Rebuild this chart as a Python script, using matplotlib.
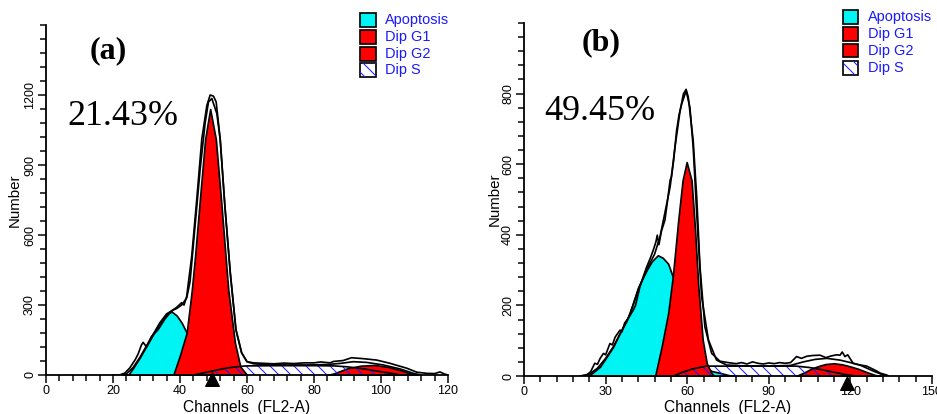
import matplotlib

matplotlib.use("Agg")
import matplotlib.pyplot as plt  # noqa: E402
from matplotlib.patches import Rectangle  # noqa: E402
from matplotlib.ticker import MultipleLocator  # noqa: E402

plt.rcParams["font.family"] = ["Liberation Sans", "DejaVu Sans"]
plt.rcParams["hatch.linewidth"] = 1.0

# ---- panel (a): channel positions and counts ----
a_apo_ch = [23, 24.5, 26, 28, 30, 32, 34, 36, 37.5, 39, 40.5, 42, 44, 46, 48, 50]
a_apo = [0, 0, 30, 75, 125, 175, 224, 262, 272, 255, 224, 181, 120, 60, 20, 0]

a_g1_ch = [38, 40, 42, 43.5, 44.5, 46.2, 47.5, 49, 50.7, 52.4, 54.4, 56.4, 58, 60]
a_g1 = [0, 85, 181, 360, 509, 795, 1010, 1140, 1010, 724, 365, 138, 36, 0]

a_g2_ch = [84, 86, 88, 90, 94, 98, 102, 106, 109, 111]
a_g2 = [0, 7, 18, 29, 40, 43, 35, 20, 5, 0]

a_s_ch = [44, 51, 54, 58, 60, 70, 80, 86, 90, 95, 100, 104, 106]
a_s = [0, 21, 30, 37, 39, 40, 40, 39, 35, 26, 14, 5, 0]

a_fit_ch = [22, 24, 26, 28, 30, 32, 34, 36, 37.5, 39, 40.5, 42, 43, 44.5, 46, 47.5,
            48.5, 49.5, 51, 52, 53.4, 55, 56.7, 58.4, 60, 62, 66, 72, 78, 84, 88,
            91.7, 95.7, 100.7, 105.7, 109.7, 112]
a_fit = [0, 5, 32, 75, 125, 175, 224, 262, 275, 285, 300, 330, 400, 640, 880, 1080,
         1170, 1185, 1120, 1010, 724, 440, 195, 95, 57, 48, 44, 43, 43, 45, 50,
         57, 54, 43, 26, 7, 0]

a_data_ch = [20, 22, 23.5, 25, 26.6, 27.5, 28.5, 29, 30, 31.5, 33.5, 35.5, 37.5, 39,
             40.5, 41.2, 42, 43.5, 45, 46.5, 48, 49, 50, 50.8, 52, 53.4, 55, 56.7,
             58.4, 60, 62, 65, 68, 71, 74, 77, 80, 82, 84.8, 85.8, 88.7, 91.2, 94.7,
             98.7, 102.7, 107.7, 110.7, 113.7, 116, 117.6, 119, 120]
a_data = [0, 0, 8, 30, 65, 90, 129, 140, 120, 165, 195, 240, 275, 290,
          310, 300, 337, 509, 752, 1010, 1154, 1200, 1195, 1170, 1010, 724, 438, 193,
          95, 57, 52, 50, 48, 51, 49, 52, 52, 56, 52, 58, 62, 74, 70,
          64, 50, 29, 12, 7, 6, 13, 4, 0]

# ---- panel (b) ----
b_apo_ch = [23.5, 25, 27.9, 30, 32.8, 35, 37.8, 40, 42, 45.1, 47, 49.2, 51, 53, 54.7,
            57, 60, 63, 66, 69, 72, 75, 77]
b_apo = [0, 8, 26, 50, 83, 118, 158, 205, 252, 300, 325, 342, 335, 318, 281,
         220, 140, 70, 30, 14, 9, 3, 0]

b_g1_ch = [48.2, 50.6, 53, 54.7, 56.7, 58.3, 59.8, 61.6, 62.9, 64.1, 65.7, 67.2, 68.9, 70]
b_g1 = [0, 83, 178, 281, 441, 554, 606, 554, 413, 252, 102, 36, 8, 0]

b_g2_ch = [100, 103, 106, 109, 111, 114, 117, 120, 123, 126, 129, 131]
b_g2 = [0, 10, 22, 30, 34, 36, 33, 27, 20, 11, 3, 0]

b_s_ch = [55, 58, 62, 67, 75, 85, 95, 100, 105, 110, 115, 119, 122]
b_s = [0, 10, 20, 28, 28, 28, 28, 28, 24, 17, 9, 3, 0]

b_fit_ch = [21, 24, 27, 30, 33, 36, 39, 42, 45, 48, 50, 52, 53.7, 55, 56.1, 57, 58,
            59.6, 61, 62.2, 63.5, 65.3, 67.8, 70.8, 74.5, 80, 90, 98, 102.7, 107,
            111.3, 116.2, 120, 123.5, 128.4, 133]
b_fit = [0, 5, 22, 50, 85, 130, 175, 245, 300, 345, 394, 470, 535, 610, 695, 740, 771,
         808, 761, 648, 460, 224, 102, 45, 31, 29, 28, 30, 40, 47,
         50, 45, 38, 31, 14, 0]

b_data_ch = [20.6, 23, 24.5, 26, 27, 28, 29.2, 30, 31.6, 32.5, 33.5, 35.3, 36, 37, 38.5,
             40.2, 41, 42.6, 44, 45.1, 46.5, 47.5, 48.5, 49, 49.6, 50.5, 51.8, 53, 53.7,
             54.2, 55.5, 57.4, 58.6, 59.6, 60.4, 62.2, 63.5, 64.7, 66.5, 69, 72, 75, 78,
             80, 82, 84, 86, 88, 90, 92, 94, 96, 98, 100.2, 102, 104, 106, 108.8, 111,
             113, 115, 116.2, 117, 118, 119, 121, 123, 126, 129.7, 131, 133.3, 134]
b_data = [0, 3, 12, 36, 33, 50, 64, 60, 92, 88, 110, 130, 125, 150, 165,
          187, 200, 252, 285, 309, 335, 356, 380, 399, 372, 410, 441, 510, 554,
          565, 648, 752, 799, 812, 790, 667, 507, 309, 139, 64, 42, 38, 35,
          38, 34, 40, 36, 34, 37, 35, 38, 36, 38, 55, 50, 56, 58, 59, 52,
          57, 60, 59, 68, 55, 60, 36, 32, 28, 14, 8, 3, 0]

legend_labels = ["Apoptosis", "Dip G1", "Dip G2", "Dip S"]

CYAN = "#00F4F4"
RED = "#FF0000"
BLUE = "#1A1AFF"
W, H = 937, 414
DPI = 72  # 1 pt == 1 px here


def px_box(x0, y0, x1, y1):
    """pixel box (top-left origin) -> figure fraction rect"""
    return [x0 / W, 1 - y1 / H, (x1 - x0) / W, (y1 - y0) / H]


def draw_panel(ax, apo, g1, g2, s, fit, data, xmax, ymax, xstep, xminor, ystep, yminor,
               ytop_label, marker_ch, marker_y, ylab_x, xlab_y):
    lw = 1.7
    ax.fill_between(s[0], s[1], 0, facecolor="white", linewidth=0, zorder=1)
    ax.fill_between(apo[0], apo[1], 0, facecolor=CYAN, edgecolor="black", linewidth=lw, zorder=2)
    ax.fill_between(g1[0], g1[1], 0, facecolor=RED, edgecolor="black", linewidth=lw, zorder=3)
    ax.fill_between(g2[0], g2[1], 0, facecolor=RED, edgecolor="black", linewidth=lw, zorder=3)
    # S phase: blue diagonal hatch over whatever sits beneath it
    ax.fill_between(s[0], s[1], 0, facecolor="none", edgecolor=BLUE, hatch="\\\\",
                    linewidth=0, zorder=4)
    ax.plot(s[0], s[1], color="black", lw=lw, zorder=4)
    ax.plot(fit[0], fit[1], color="black", lw=lw, zorder=6)
    ax.plot(data[0], data[1], color="black", lw=lw, zorder=6)

    ax.plot([marker_ch], [marker_y], marker="^", color="black", markersize=14,
            transform=ax.get_xaxis_transform(), clip_on=False, zorder=8)

    ax.set_xlim(0, xmax)
    ax.set_ylim(0, ymax)
    for side in ("top", "right"):
        ax.spines[side].set_visible(False)
    for side in ("left", "bottom"):
        ax.spines[side].set_linewidth(1.8)
        ax.spines[side].set_zorder(7)
    ax.xaxis.set_major_locator(MultipleLocator(xstep))
    ax.xaxis.set_minor_locator(MultipleLocator(xminor))
    ax.set_yticks(list(range(0, ytop_label + 1, ystep)))
    ax.yaxis.set_minor_locator(MultipleLocator(yminor))
    ax.tick_params(which="major", length=8, width=1.5, labelsize=12.5, pad=2)
    ax.tick_params(which="minor", length=6, width=1.5)
    ax.tick_params(axis="y", labelrotation=90)
    for lab in ax.get_yticklabels():
        lab.set_va("center")

    ax.set_xlabel("Channels  (FL2-A)", fontsize=15.5)
    ax.set_ylabel("Number", fontsize=15)
    ax.xaxis.set_label_coords(0.5, xlab_y)
    ax.yaxis.label.set_va("center")
    ax.yaxis.set_label_coords(ylab_x, 0.5)


def draw_legend(fig, box_x0, box_x1, rows, text_x):
    faces = [CYAN, RED, RED, "white"]
    for (y0, y1), face, lab in zip(rows, faces, legend_labels):
        rect = Rectangle((box_x0 / W, 1 - y1 / H), (box_x1 - box_x0) / W, (y1 - y0) / H,
                         transform=fig.transFigure, facecolor=face, edgecolor="black",
                         linewidth=1.7)
        fig.add_artist(rect)
        if face == "white":
            hat = Rectangle((box_x0 / W, 1 - y1 / H), (box_x1 - box_x0) / W, (y1 - y0) / H,
                            transform=fig.transFigure, facecolor="none", edgecolor=BLUE,
                            hatch="\\\\", linewidth=0)
            fig.add_artist(hat)
        fig.text(text_x / W, 1 - (y0 + y1) / 2 / H, lab, color=BLUE, fontsize=14.5,
                 ha="left", va="center")


fig = plt.figure(figsize=(W / DPI, H / DPI), dpi=DPI)
ax_a = fig.add_axes(px_box(46, 25, 448, 375))
ax_b = fig.add_axes(px_box(524, 23, 932, 376))

draw_panel(ax_a, (a_apo_ch, a_apo), (a_g1_ch, a_g1), (a_g2_ch, a_g2), (a_s_ch, a_s),
           (a_fit_ch, a_fit), (a_data_ch, a_data), 120, 1500, 20, 4, 300, 60, 1200,
           49.6, -0.012, -0.077, -0.071)
draw_panel(ax_b, (b_apo_ch, b_apo), (b_g1_ch, b_g1), (b_g2_ch, b_g2), (b_s_ch, b_s),
           (b_fit_ch, b_fit), (b_data_ch, b_data), 150, 1000, 30, 6, 200, 40, 800,
           118.8, -0.02, -0.071, -0.068)

draw_legend(fig, 360, 376, [(13, 27), (30, 44), (47, 61), (63, 77)], 385)
draw_legend(fig, 843, 858, [(10, 24), (27, 41), (44, 57), (61, 75)], 868)

serif = ["Liberation Serif", "DejaVu Serif"]
fig.text(90 / W, 1 - 58 / H, "(a)", family=serif, weight="bold", fontsize=32,
         ha="left", va="baseline")
fig.text(67 / W, 1 - 125 / H, "21.43%", family=serif, fontsize=36, ha="left", va="baseline")
fig.text(582 / W, 1 - 50 / H, "(b)", family=serif, weight="bold", fontsize=32,
         ha="left", va="baseline")
fig.text(544 / W, 1 - 120 / H, "49.45%", family=serif, fontsize=36, ha="left", va="baseline")

fig.savefig("out.png", dpi=DPI)
